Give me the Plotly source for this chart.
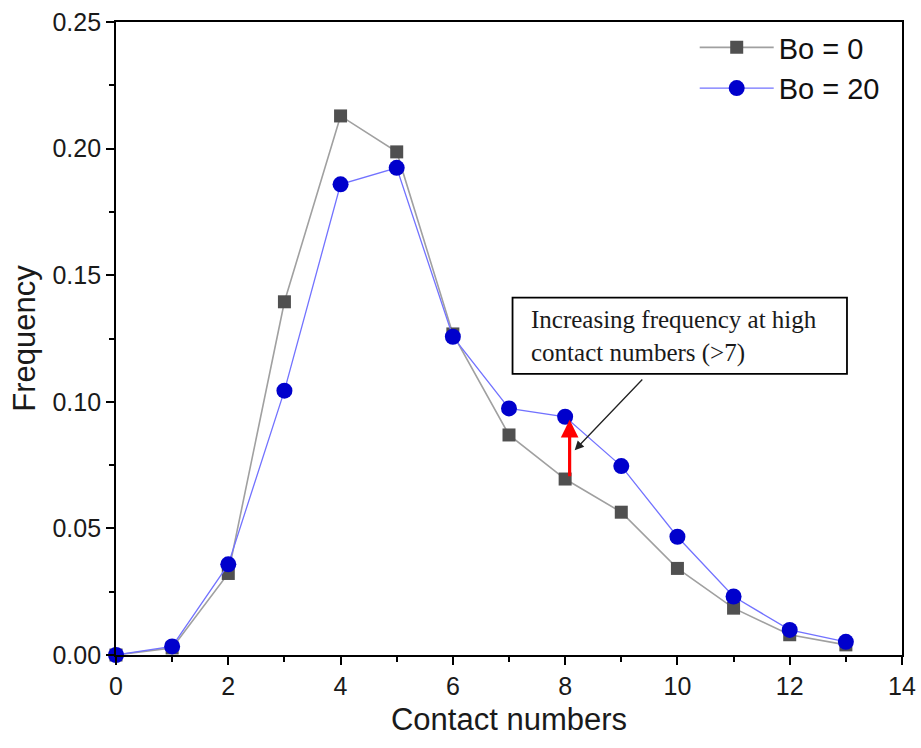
import plotly.graph_objects as go

# Contact number distribution for two Bond numbers
contact_numbers = list(range(14))
freq_bo0 = [0.0, 0.0028, 0.0322, 0.1395, 0.2129, 0.1987, 0.1268, 0.0869, 0.0695, 0.0564,
            0.0342, 0.0185, 0.0080, 0.0040]
freq_bo20 = [0.0, 0.0034, 0.0358, 0.1044, 0.1859, 0.1924, 0.1257, 0.0974, 0.0941, 0.0746,
             0.0467, 0.0231, 0.0099, 0.0052]

x_ticks = [0, 2, 4, 6, 8, 10, 12, 14]
y_ticks = [0.00, 0.05, 0.10, 0.15, 0.20, 0.25]

highlight_x = 8
note_text = "Increasing frequency at high<br>contact numbers (>7)"

SANS = "Liberation Sans, Arial, sans-serif"
SERIF = "Liberation Serif, Times New Roman, serif"

fig = go.Figure()
fig.add_trace(go.Scatter(
    x=contact_numbers, y=freq_bo0, name="Bo = 0", mode="lines+markers",
    line=dict(color="#a0a0a0", width=1.6),
    marker=dict(symbol="square", size=13, color="#505050"),
    cliponaxis=False,
))
fig.add_trace(go.Scatter(
    x=contact_numbers, y=freq_bo20, name="Bo = 20", mode="lines+markers",
    line=dict(color="#7272ff", width=1.3),
    marker=dict(symbol="circle", size=16, color="#0000cc"),
    cliponaxis=False,
))

# Red arrow showing the rise between the two series at contact number 8
fig.add_annotation(
    x=highlight_x + 0.08, y=freq_bo20[highlight_x] - 0.0012,
    ax=highlight_x + 0.08, ay=freq_bo0[highlight_x] + 0.0005,
    xref="x", yref="y", axref="x", ayref="y",
    text="", showarrow=True, arrowhead=2, arrowsize=1.1, arrowwidth=3.2, arrowcolor="#ff0000",
)

# Callout box
fig.add_shape(
    type="rect", xref="paper", yref="paper",
    x0=0.5045, x1=0.930, y0=0.444, y1=0.5645,
    line=dict(color="#000000", width=1.8), fillcolor="#ffffff", layer="above",
)
fig.add_annotation(
    x=0.525, y=0.5035, xref="paper", yref="paper", xanchor="left", yanchor="middle",
    text=note_text, showarrow=False, align="left",
    font=dict(family=SERIF, size=25, color="#1a1a1a"),
)
fig.add_annotation(
    x=8.17, y=0.0809, ax=9.4, ay=0.1094,
    xref="x", yref="y", axref="x", ayref="y",
    text="", showarrow=True, arrowhead=2, arrowsize=1.4, arrowwidth=1.3, arrowcolor="#222222",
)

axis_line = dict(showline=True, linecolor="#000", linewidth=1.8, mirror=True,
                 showgrid=False, zeroline=False, ticks="outside", ticklen=8,
                 tickwidth=1.8, tickcolor="#000")
fig.update_xaxes(
    range=[0, 14], tickvals=x_ticks, ticktext=[str(v) for v in x_ticks],
    minor=dict(dtick=1, ticks="outside", ticklen=5, tickwidth=1.6, tickcolor="#000"),
    tickfont=dict(family=SANS, size=25, color="#1a1a1a"), automargin=False,
    title=dict(text="Contact numbers", font=dict(family=SANS, size=31, color="#1a1a1a"), standoff=9),
    **axis_line,
)
fig.update_yaxes(
    range=[0, 0.25], tickvals=y_ticks, ticktext=[f"{v:.2f}" for v in y_ticks],
    minor=dict(dtick=0.025, ticks="outside", ticklen=5, tickwidth=1.6, tickcolor="#000"),
    tickfont=dict(family=SANS, size=25, color="#1a1a1a"), automargin=False,
    title=dict(text="Frequency", font=dict(family=SANS, size=31, color="#1a1a1a"), standoff=8),
    **axis_line,
)

fig.update_layout(
    width=921, height=748,
    margin=dict(l=116, r=19, t=22, b=93),
    paper_bgcolor="#ffffff", plot_bgcolor="#ffffff",
    legend=dict(
        x=0.978, y=1.0, xanchor="right", yanchor="top",
        font=dict(family=SANS, size=29, color="#111111"),
        bgcolor="rgba(255,255,255,0)", itemwidth=74, tracegroupgap=0,
    ),
)

fig.write_html("out.html")
